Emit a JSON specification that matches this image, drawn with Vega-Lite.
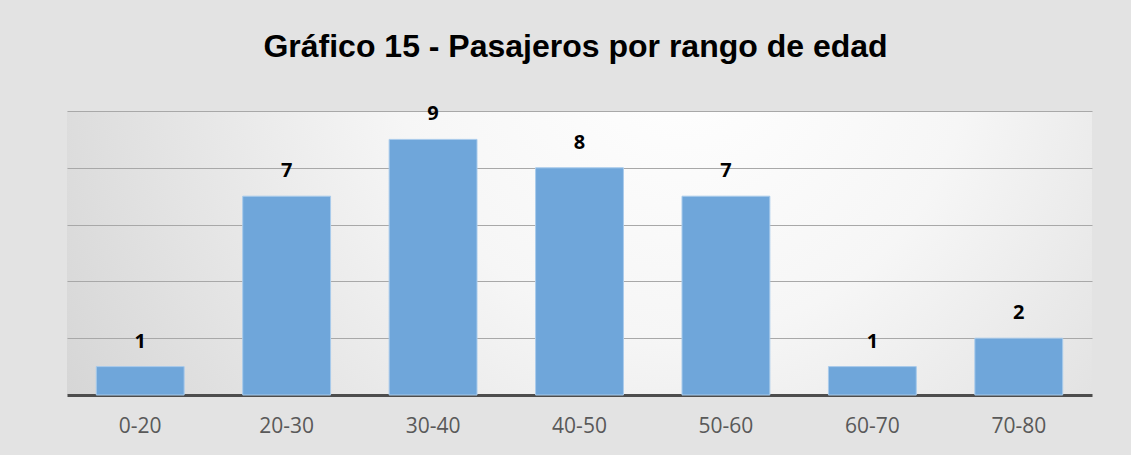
{
  "$schema": "https://vega.github.io/schema/vega-lite/v6.json",
  "width": 1025,
  "height": 284,
  "autosize": {"type": "none"},
  "padding": {"left": 67, "top": 111, "right": 39, "bottom": 60},
  "background": "#e3e3e3",
  "title": {
    "text": "Gráfico 15 - Pasajeros por rango de edad",
    "font": "Liberation Sans",
    "fontSize": 32,
    "fontWeight": "bold",
    "color": "#000000",
    "anchor": "middle",
    "baseline": "alphabetic",
    "offset": 15,
    "dx": -4
  },
  "data": {
    "values": [
      {"rango": "0-20", "pasajeros": 1},
      {"rango": "20-30", "pasajeros": 7},
      {"rango": "30-40", "pasajeros": 9},
      {"rango": "40-50", "pasajeros": 8},
      {"rango": "50-60", "pasajeros": 7},
      {"rango": "60-70", "pasajeros": 1},
      {"rango": "70-80", "pasajeros": 2}
    ]
  },
  "encoding": {
    "x": {
      "field": "rango",
      "type": "nominal",
      "sort": null,
      "scale": {"paddingInner": 0.4, "paddingOuter": 0.2},
      "axis": {
        "title": null,
        "labelAngle": 0,
        "labelFont": "Open Sans",
        "labelFontSize": 21,
        "labelColor": "#595959",
        "labelPadding": 20,
        "ticks": false,
        "domainColor": "#4d4d4d",
        "domainWidth": 3,
        "grid": false
      }
    },
    "y": {
      "field": "pasajeros",
      "type": "quantitative",
      "scale": {"domain": [0, 10], "nice": false},
      "axis": {
        "title": null,
        "labels": false,
        "ticks": false,
        "domain": false,
        "values": [2, 4, 6, 8, 10],
        "grid": true,
        "gridColor": "#a8a8a8",
        "gridWidth": 1.2
      }
    }
  },
  "layer": [
    {
      "mark": {"type": "bar", "color": "#6fa6da", "stroke": "#a9cbeb", "strokeWidth": 1}
    },
    {
      "mark": {
        "type": "text",
        "font": "Open Sans",
        "fontSize": 20,
        "fontWeight": "bold",
        "color": "#000000",
        "baseline": "alphabetic",
        "dy": -19
      },
      "encoding": {"text": {"field": "pasajeros", "type": "quantitative"}}
    }
  ],
  "config": {
    "view": {
      "stroke": null,
      "fill": {
        "gradient": "radial",
        "x1": 0.6, "y1": 0.3, "r1": 0,
        "x2": 0.6, "y2": 0.3, "r2": 0.8,
        "stops": [
          {"offset": 0, "color": "#ffffff"},
          {"offset": 0.35, "color": "#f6f6f6"},
          {"offset": 1, "color": "#cdcdcd"}
        ]
      }
    }
  }
}
